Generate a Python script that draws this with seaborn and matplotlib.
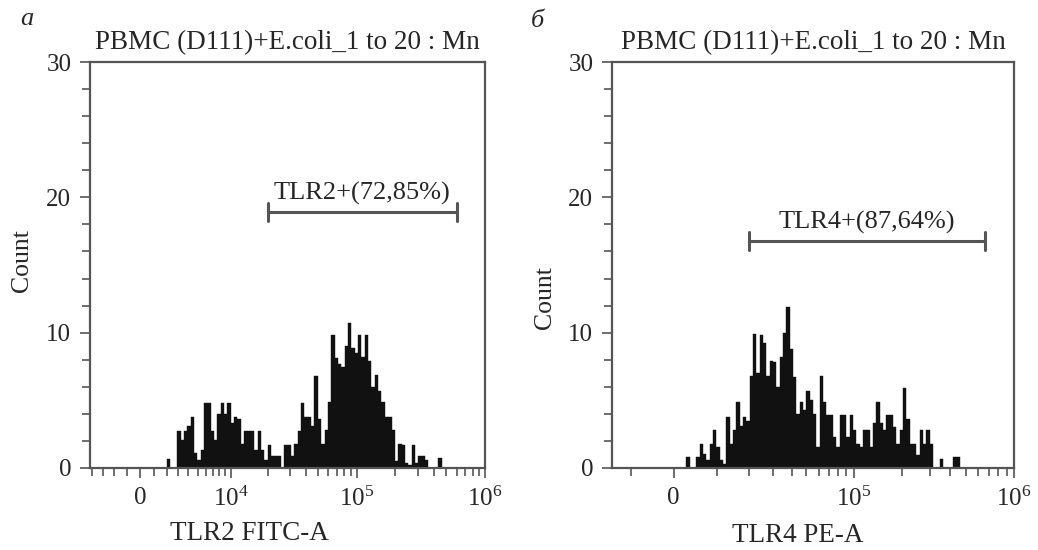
import numpy as np
import pandas as pd
import matplotlib
matplotlib.use("Agg")
import matplotlib.pyplot as plt
import seaborn as sns

# --- dados ---
title_text = "PBMC (D111)+E.coli_1 to 20 : Mn"
panel_labels = ["а", "б"]
x_labels = ["TLR2 FITC-A", "TLR4 PE-A"]
gate_labels = ["TLR2+(72,85%)", "TLR4+(87,64%)"]

# escala biexponencial (asinh) de cada painel
cofactors = [4100, 15270]
x_limits = [(-4230, 1.0e6), (-15300, 1.0e6)]
major_ticks = [[0, 1e4, 1e5, 1e6], [0, 1e5, 1e6]]
major_labels = [["0", r"$\mathregular{10^4}$", r"$\mathregular{10^5}$", r"$\mathregular{10^6}$"],
                ["0", r"$\mathregular{10^5}$", r"$\mathregular{10^6}$"]]
minor_ticks = [
    [-4000, -3000, -2000, -1000, 1000, 2000, 3000, 4000, 5000, 6000, 7000, 8000, 9000,
     2e4, 3e4, 4e4, 5e4, 6e4, 7e4, 8e4, 9e4, 2e5, 3e5, 4e5, 5e5, 6e5, 7e5, 8e5, 9e5],
    [-1e4, 1e4, 2e4, 3e4, 4e4, 5e4, 6e4, 7e4, 8e4, 9e4,
     2e5, 3e5, 4e5, 5e5, 6e5, 7e5, 8e5, 9e5],
]

# histogramas (contagem por canal)
tlr2_range = (2050, 4.6e5)
tlr2_counts = [0.66, 0, 0, 2.7, 2.1, 2.7, 3.1, 3.8, 1.1, 0.6,
               1.35, 4.8, 4.8, 2.7, 2.1, 4.0, 4.8, 4.0, 4.8, 3.3,
               3.8, 3.6, 1.8, 2.7, 2.7, 2.7, 1.35, 2.7, 1.35, 0.6,
               1.7, 0.86, 0.86, 0.86, 0, 1.7, 1.7, 0.86, 1.8, 2.7,
               4.8, 3.8, 3.8, 3.1, 6.8, 3.6, 1.8, 2.8, 4.9, 9.8,
               8.1, 7.7, 7.5, 9.0, 10.75, 8.9, 8.5, 9.8, 8.2, 9.8,
               7.9, 6.0, 6.9, 5.7, 4.9, 3.8, 3.8, 2.8, 0.5, 1.8,
               1.7, 0.4, 0.25, 1.7, 0.4, 0.86, 0.86, 0.6, 0, 0,
               0, 0.74]
tlr4_range = (2800, 4.6e5)
tlr4_counts = [0.8, 0, 0, 0.8, 1.8, 1.05, 0.57, 1.8, 2.8, 1.55,
               0.57, 0.3, 3.8, 1.8, 2.8, 4.9, 3.1, 3.8, 3.5, 6.8,
               9.9, 7.0, 9.8, 9.2, 6.8, 7.9, 7.8, 6.0, 8.2, 10.0,
               11.9, 8.8, 6.7, 4.0, 4.9, 4.3, 5.7, 5.0, 4.0, 1.55,
               6.8, 4.9, 3.9, 3.9, 2.3, 1.55, 3.9, 3.9, 2.3, 3.9,
               2.8, 1.8, 1.55, 2.8, 2.8, 1.55, 3.3, 4.9, 3.3, 2.8,
               3.9, 3.9, 3.0, 1.8, 2.8, 5.9, 3.6, 1.8, 1.8, 0.93,
               2.8, 1.8, 2.8, 1.8, 0, 0, 0.7, 0, 0, 0,
               0.8, 0.8]

# gates: inicio, fim, altura
gates = [(2.0e4, 6.05e5, 18.9), (2.0e4, 6.6e5, 16.75)]

# --- estilo ---
sns.set_style("ticks")
plt.rcParams['font.family'] = ['Liberation Serif', 'DejaVu Serif']
plt.rcParams['mathtext.fontset'] = 'custom'
plt.rcParams['mathtext.rm'] = 'Liberation Serif'
axis_color = '#555555'

fig = plt.figure(figsize=(10.38, 5.5), dpi=100)
axes_rects = [[90 / 1038, 82 / 550, 395 / 1038, 406 / 550],
              [612 / 1038, 82 / 550, 402 / 1038, 406 / 550]]
xlabel_pos = [(0.403, -0.13), (0.463, -0.135)]
ylabel_pos = [(-0.144, 0.51), (-0.139, 0.42)]
panel_pos = [(27 / 1038, 1 - 19 / 550), (537 / 1038, 1 - 21 / 550)]

datasets = [(tlr2_counts, tlr2_range), (tlr4_counts, tlr4_range)]

for i in range(2):
    c = cofactors[i]
    fwd = lambda v, c=c: np.arcsinh(np.asarray(v, dtype=float) / c)
    inv = lambda t, c=c: c * np.sinh(np.asarray(t, dtype=float))

    ax = fig.add_axes(axes_rects[i])

    # bins uniformes no espaço transformado (desenha em escala linear, depois troca a escala)
    counts, (lo, hi) = datasets[i]
    edges = inv(np.linspace(fwd(lo), fwd(hi), len(counts) + 1))
    centers = inv((fwd(edges[:-1]) + fwd(edges[1:])) / 2)
    df = pd.DataFrame({"valor": centers, "contagem": counts})
    sns.histplot(data=df, x="valor", weights="contagem", bins=list(edges), ax=ax,
                 element='bars', fill=True, color='#111111', edgecolor='#111111',
                 linewidth=0.3, alpha=1)
    ax.set_xscale('function', functions=(fwd, inv))

    # gate
    g0, g1, gy = gates[i]
    ax.plot([g0, g1], [gy, gy], color=axis_color, lw=2.2, solid_capstyle='butt')
    ax.plot([g0, g0], [gy - 0.66, gy + 0.66], color=axis_color, lw=2.2)
    ax.plot([g1, g1], [gy - 0.66, gy + 0.66], color=axis_color, lw=2.2)
    xmid = inv((fwd(g0) + fwd(g1)) / 2)
    ax.text(xmid, gy + 0.55, gate_labels[i], ha='center', va='bottom', fontsize=19)

    ax.set_xlim(*x_limits[i])
    ax.set_ylim(0, 30)
    ax.set_xticks(major_ticks[i])
    ax.set_xticklabels(major_labels[i])
    ax.set_xticks(minor_ticks[i], minor=True)
    ax.set_yticks([0, 10, 20, 30])
    ax.set_yticks([2, 4, 6, 8, 12, 14, 16, 18, 22, 24, 26, 28], minor=True)

    ax.tick_params(axis='both', which='major', direction='out', length=7.5, width=1.2,
                   color=axis_color, labelsize=18, pad=6, top=False, right=False)
    ax.tick_params(axis='x', which='minor', direction='out', length=5.5, width=1.2,
                   color=axis_color, top=False)
    ax.tick_params(axis='y', which='minor', direction='out', length=5.5, width=1.2,
                   color=axis_color, right=False)
    for sp in ax.spines.values():
        sp.set_color(axis_color)
        sp.set_linewidth(1.6)

    ax.set_title(title_text, fontsize=19.5, pad=9)
    ax.set_xlabel(x_labels[i], fontsize=19.5)
    ax.set_ylabel("Count", fontsize=18.5)
    ax.xaxis.set_label_coords(*xlabel_pos[i])
    ax.yaxis.set_label_coords(*ylabel_pos[i])

    fig.text(panel_pos[i][0], panel_pos[i][1], panel_labels[i], fontsize=19,
             style='italic', ha='center', va='center')

fig.savefig('out.png', dpi=100)
